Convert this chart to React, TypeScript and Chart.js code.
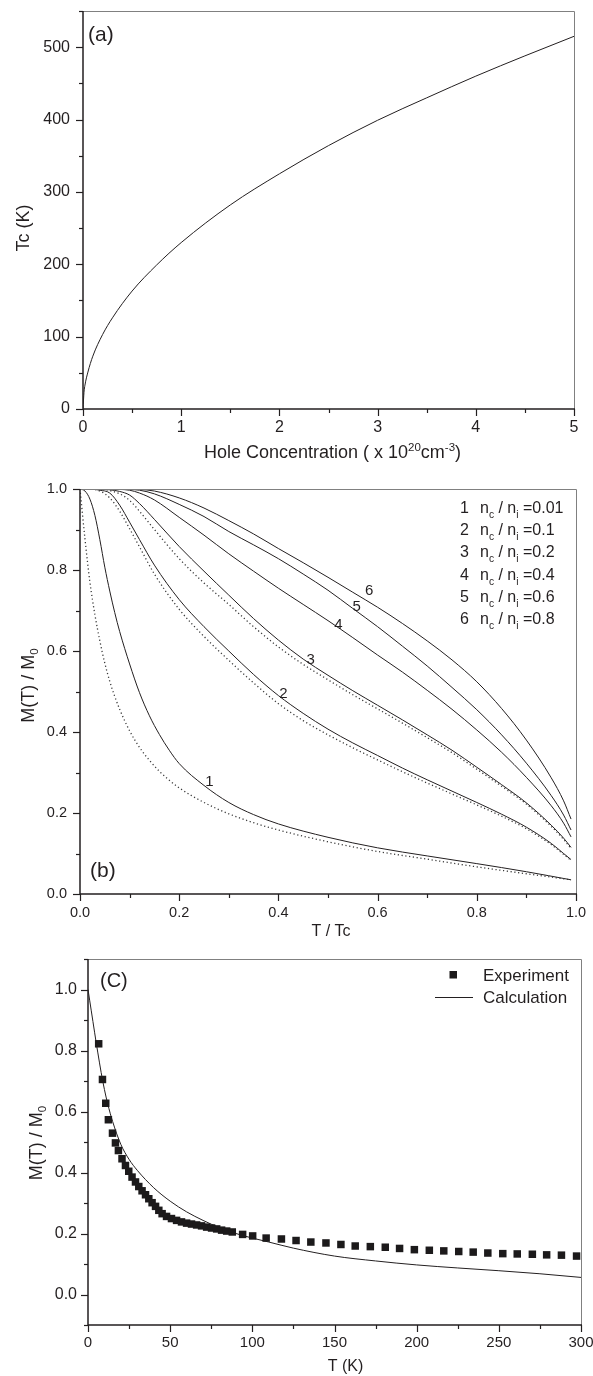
import React, { useEffect, useRef } from "react";
import { Chart, registerables } from "chart.js";

Chart.register(...registerables);

const FONT = "'Liberation Sans', Arial, Helvetica, sans-serif";
const INK = "#231f20";

// ---------------- Panel (a) ----------------
const holeConcentration = [0, 0.01, 0.02, 0.05, 0.1, 0.2, 0.3, 0.5, 0.75, 1, 1.5, 2, 2.5, 3, 3.5, 4, 4.5, 5];
const curieTemperature = [0, 23, 33, 51, 73, 103, 126, 163, 199, 230, 282, 325, 364, 399, 430, 460, 488, 515];
const aXTicks = [0, 1, 2, 3, 4, 5];
const aXMinor = [0.5, 1.5, 2.5, 3.5, 4.5];
const aYTicks = [0, 100, 200, 300, 400, 500];
const aYMinor = [50, 150, 250, 350, 450, 550];

// ---------------- Panel (b) ----------------
const bTLow = [0, 0.01, 0.02, 0.03, 0.04, 0.05, 0.06, 0.07, 0.08, 0.1, 0.12, 0.14, 0.16, 0.18, 0.2, 0.25, 0.3, 0.35, 0.4, 0.5, 0.6, 0.7, 0.8, 0.9, 0.99];
const bCurve1Solid = [1.0, 0.995, 0.975, 0.935, 0.875, 0.807, 0.748, 0.695, 0.648, 0.568, 0.497, 0.44, 0.394, 0.355, 0.322, 0.268, 0.226, 0.196, 0.173, 0.14, 0.114, 0.094, 0.075, 0.055, 0.035];
const bCurve1Dotted = [1.0, 0.877, 0.77, 0.69, 0.625, 0.57, 0.525, 0.488, 0.456, 0.403, 0.362, 0.33, 0.303, 0.281, 0.262, 0.226, 0.198, 0.176, 0.158, 0.129, 0.105, 0.086, 0.067, 0.05, 0.035];
const bT = [0, 0.02, 0.04, 0.06, 0.08, 0.1, 0.12, 0.15, 0.2, 0.25, 0.3, 0.35, 0.4, 0.45, 0.5, 0.55, 0.6, 0.65, 0.7, 0.75, 0.8, 0.85, 0.9, 0.95, 0.975, 0.99];
const bCurve2Solid = [1.0, 1.0, 0.997, 0.99, 0.96, 0.918, 0.875, 0.812, 0.727, 0.66, 0.6, 0.542, 0.49, 0.446, 0.407, 0.373, 0.342, 0.311, 0.282, 0.254, 0.226, 0.197, 0.165, 0.125, 0.1, 0.085];
const bCurve2Dotted = [1.0, 1.0, 0.995, 0.978, 0.945, 0.902, 0.857, 0.79, 0.703, 0.636, 0.577, 0.521, 0.47, 0.428, 0.393, 0.361, 0.331, 0.302, 0.274, 0.247, 0.22, 0.192, 0.161, 0.122, 0.098, 0.083];
const bCurve3Solid = [1, 1, 1, 0.998, 0.994, 0.985, 0.964, 0.925, 0.858, 0.797, 0.738, 0.68, 0.627, 0.58, 0.54, 0.502, 0.466, 0.43, 0.393, 0.355, 0.313, 0.27, 0.225, 0.17, 0.138, 0.115];
const bCurve3Dotted = [1, 1, 1, 0.996, 0.988, 0.972, 0.945, 0.9, 0.828, 0.768, 0.715, 0.66, 0.61, 0.567, 0.529, 0.492, 0.457, 0.422, 0.386, 0.349, 0.308, 0.266, 0.222, 0.167, 0.135, 0.112];
const bCurve4 = [1, 1, 1, 1, 0.999, 0.997, 0.99, 0.973, 0.93, 0.886, 0.84, 0.797, 0.755, 0.715, 0.675, 0.633, 0.59, 0.548, 0.503, 0.456, 0.405, 0.35, 0.288, 0.218, 0.175, 0.141];
const bCurve5 = [1, 1, 1, 1, 1, 0.999, 0.997, 0.988, 0.962, 0.932, 0.895, 0.862, 0.828, 0.79, 0.75, 0.705, 0.66, 0.612, 0.563, 0.51, 0.455, 0.393, 0.323, 0.243, 0.195, 0.158];
const bCurve6 = [1, 1, 1, 1, 1, 1, 0.999, 0.995, 0.978, 0.953, 0.922, 0.889, 0.853, 0.818, 0.782, 0.745, 0.708, 0.668, 0.625, 0.578, 0.524, 0.458, 0.38, 0.287, 0.23, 0.185];
const bCurveLabelText = ["1", "2", "3", "4", "5", "6"];
const bCurveLabelX = [0.261, 0.41, 0.465, 0.521, 0.558, 0.583];
const bCurveLabelY = [0.28, 0.498, 0.582, 0.667, 0.712, 0.751];
const bLegendRatios = ["0.01", "0.1", "0.2", "0.4", "0.6", "0.8"];
const bXTicks = [0, 0.2, 0.4, 0.6, 0.8, 1.0];
const bXMinor = [0.1, 0.3, 0.5, 0.7, 0.9];
const bYTicks = [0, 0.2, 0.4, 0.6, 0.8, 1.0];
const bYMinor = [0.1, 0.3, 0.5, 0.7, 0.9];

// ---------------- Panel (c) ----------------
const expT = [6.5, 8.8, 10.8, 12.4, 14.9, 16.7, 18.5, 20.7, 22.8, 24.8, 26.8, 28.9, 30.9, 32.9, 35.0, 37.0, 39.0, 41.1, 43.1, 45.1, 47.8, 50.8, 53.9, 56.9, 60.0, 63.0, 66.1, 69.1, 72.2, 75.2, 78.3, 81.3, 84.4, 87.8, 94.1, 100.2, 108.4, 117.7, 126.6, 135.6, 144.8, 153.9, 162.6, 171.8, 180.9, 189.6, 198.6, 207.7, 216.5, 225.6, 234.4, 243.3, 252.4, 261.2, 270.4, 279.1, 288.1, 297.3];
const expM = [0.822, 0.705, 0.627, 0.573, 0.529, 0.497, 0.472, 0.445, 0.423, 0.404, 0.385, 0.369, 0.354, 0.34, 0.327, 0.314, 0.301, 0.289, 0.276, 0.265, 0.256, 0.249, 0.243, 0.238, 0.234, 0.231, 0.228, 0.225, 0.221, 0.218, 0.215, 0.211, 0.208, 0.205, 0.197, 0.192, 0.185, 0.182, 0.177, 0.172, 0.169, 0.164, 0.159, 0.157, 0.155, 0.151, 0.147, 0.145, 0.143, 0.141, 0.139, 0.136, 0.134, 0.133, 0.132, 0.13, 0.129, 0.126];
const calcT = [0, 1, 2, 3, 4, 5, 6, 8, 10, 12, 15, 20, 25, 30, 40, 50, 60, 70, 80, 90, 100, 110, 125, 150, 175, 200, 225, 250, 275, 300];
const calcM = [1.0, 0.965, 0.93, 0.895, 0.86, 0.825, 0.792, 0.728, 0.672, 0.625, 0.567, 0.492, 0.443, 0.407, 0.35, 0.306, 0.271, 0.243, 0.219, 0.2, 0.185, 0.172, 0.152, 0.126, 0.11, 0.097, 0.087, 0.078, 0.068, 0.056];
const cXTicks = [0, 50, 100, 150, 200, 250, 300];
const cXMinor = [25, 75, 125, 175, 225, 275];
const cYTicks = [0, 0.2, 0.4, 0.6, 0.8, 1.0];
const cYMinor = [-0.1, 0.1, 0.3, 0.5, 0.7, 0.9, 1.1];

// ---------------- helpers ----------------
type Seg = { t: string; s?: "sub" | "sup" };

function drawRich(ctx: CanvasRenderingContext2D, segs: Seg[], x: number, yMid: number, size: number, align: "left" | "center", subDy = 0.22) {
  const small = size * 0.64;
  let w = 0;
  for (const g of segs) {
    ctx.font = `${g.s ? small : size}px ${FONT}`;
    w += ctx.measureText(g.t).width;
  }
  let cx = align === "center" ? x - w / 2 : x;
  const base = yMid + size * 0.35;
  ctx.textAlign = "left";
  ctx.textBaseline = "alphabetic";
  for (const g of segs) {
    ctx.font = `${g.s ? small : size}px ${FONT}`;
    const dy = g.s === "sup" ? -size * 0.42 : g.s === "sub" ? size * subDy : 0;
    ctx.fillText(g.t, cx, base + dy);
    cx += ctx.measureText(g.t).width;
  }
}

const decorPlugin = {
  id: "decor",
  afterDraw(chart: any, _args: any, o: any) {
    const { ctx, chartArea: a, scales } = chart;
    const xs = scales.x;
    const ys = scales.y;
    ctx.save();
    ctx.strokeStyle = "#808080";
    ctx.lineWidth = 1;
    ctx.beginPath();
    ctx.moveTo(a.left, a.top + 0.5);
    ctx.lineTo(a.right + 0.5, a.top + 0.5);
    ctx.lineTo(a.right + 0.5, a.bottom);
    ctx.stroke();
    ctx.strokeStyle = INK;
    ctx.lineWidth = 1.5;
    ctx.beginPath();
    ctx.moveTo(a.left, a.top);
    ctx.lineTo(a.left, a.bottom);
    ctx.lineTo(a.right + 1, a.bottom);
    ctx.stroke();
    ctx.lineWidth = 1.2;
    const xt = (vals: number[], len: number) => {
      for (const v of vals) {
        const p = Math.round(xs.getPixelForValue(v)) + 0.5;
        ctx.beginPath();
        ctx.moveTo(p, a.bottom);
        ctx.lineTo(p, a.bottom + len);
        ctx.stroke();
      }
    };
    const yt = (vals: number[], len: number) => {
      for (const v of vals) {
        const p = Math.round(ys.getPixelForValue(v)) + 0.5;
        ctx.beginPath();
        ctx.moveTo(a.left - len, p);
        ctx.lineTo(a.left, p);
        ctx.stroke();
      }
    };
    xt(o.xMajor, 7);
    xt(o.xMinor, 4);
    yt(o.yMajor, 7);
    yt(o.yMinor, 4);
    ctx.fillStyle = INK;
    const xT = o.xTitle;
    drawRich(ctx, xT.segs, (a.left + a.right) / 2 + xT.dx, a.bottom + xT.dy, xT.size, "center");
    const yT = o.yTitle;
    ctx.save();
    ctx.translate(yT.x, (a.top + a.bottom) / 2 + yT.dy);
    ctx.rotate(-Math.PI / 2);
    drawRich(ctx, yT.segs, 0, 0, yT.size, "center");
    ctx.restore();
    const pl = o.panel;
    drawRich(ctx, [{ t: pl.text }], a.left + pl.dx, a.top + pl.dy, pl.size, "left");
    if (o.curveLabels) {
      for (const c of o.curveLabels) {
        drawRich(ctx, [{ t: c.text }], xs.getPixelForValue(c.x), ys.getPixelForValue(c.y), o.curveLabelSize, "center");
      }
    }
    if (o.legend) o.legend(ctx, a);
    ctx.restore();
  },
};

function axis(min: number, max: number, ticks: number[], fmt: (v: number) => string, size: number, padding: number, fit: (s: any) => void) {
  return {
    type: "linear",
    min,
    max,
    grid: { display: false, drawTicks: false },
    border: { display: false },
    ticks: {
      padding,
      color: INK,
      font: { size, family: FONT },
      autoSkip: false,
      maxRotation: 0,
      callback: (v: number) => fmt(v),
    },
    afterBuildTicks: (s: any) => {
      s.ticks = ticks.map((v) => ({ value: v }));
    },
    afterFit: (s: any) => {
      fit(s);
      s.paddingTop = 0;
      s.paddingBottom = 0;
      s.paddingLeft = 0;
      s.paddingRight = 0;
    },
  };
}

const pts = (xs: number[], ys: number[]) => xs.map((x, i) => ({ x, y: ys[i] }));

const line = (data: any[], dotted = false) => ({
  data,
  showLine: true,
  borderColor: dotted ? "#3a3a3a" : INK,
  borderWidth: dotted ? 1.3 : 1,
  borderDash: dotted ? [1.2, 2.6] : [],
  pointRadius: 0,
  cubicInterpolationMode: "monotone",
  fill: false,
});

const W = 640;

function buildA(canvas: HTMLCanvasElement) {
  return new Chart(canvas, {
    type: "scatter",
    data: { datasets: [line(pts(holeConcentration, curieTemperature))] },
    options: {
      responsive: false,
      animation: false,
      events: [],
      layout: { padding: { top: 11, right: W - 574, left: 0, bottom: 0 } },
      plugins: {
        legend: { display: false },
        tooltip: { enabled: false },
        decor: {
          xMajor: aXTicks,
          xMinor: aXMinor,
          yMajor: aYTicks,
          yMinor: aYMinor,
          xTitle: {
            segs: [{ t: "Hole Concentration ( x 10" }, { t: "20", s: "sup" }, { t: "cm" }, { t: "-3", s: "sup" }, { t: ")" }],
            size: 18,
            dx: 4,
            dy: 43,
          },
          yTitle: { segs: [{ t: "Tc (K)" }], size: 18, x: 23, dy: 18 },
          panel: { text: "(a)", size: 21, dx: 5, dy: 23 },
        },
      } as any,
      scales: {
        x: axis(0, 5, aXTicks, (v) => String(v), 16, 9, (s: any) => { s.height = 56; }),
        y: axis(0, 550, aYTicks, (v) => String(v), 16, 13, (s: any) => { s.width = 83; }),
      } as any,
    },
    plugins: [decorPlugin as any],
  });
}

function buildB(canvas: HTMLCanvasElement) {
  const labels = bCurveLabelText.map((t, i) => ({ text: t, x: bCurveLabelX[i], y: bCurveLabelY[i] }));
  return new Chart(canvas, {
    type: "scatter",
    data: {
      datasets: [
        line(pts(bTLow, bCurve1Dotted), true),
        line(pts(bT, bCurve2Dotted), true),
        line(pts(bT, bCurve3Dotted), true),
        line(pts(bTLow, bCurve1Solid)),
        line(pts(bT, bCurve2Solid)),
        line(pts(bT, bCurve3Solid)),
        line(pts(bT, bCurve4)),
        line(pts(bT, bCurve5)),
        line(pts(bT, bCurve6)),
      ],
    },
    options: {
      responsive: false,
      animation: false,
      events: [],
      layout: { padding: { top: 24, right: W - 576, left: 0, bottom: 0 } },
      plugins: {
        legend: { display: false },
        tooltip: { enabled: false },
        decor: {
          xMajor: bXTicks,
          xMinor: bXMinor,
          yMajor: bYTicks,
          yMinor: bYMinor,
          xTitle: { segs: [{ t: "T / Tc" }], size: 16, dx: 3, dy: 36 },
          yTitle: { segs: [{ t: "M(T) / M" }, { t: "0", s: "sub" }], size: 18, x: 28, dy: -6 },
          panel: { text: "(b)", size: 21, dx: 10, dy: 381 },
          curveLabels: labels,
          curveLabelSize: 15,
          legend: (ctx: CanvasRenderingContext2D, a: any) => {
            bLegendRatios.forEach((r, i) => {
              const y = a.top + 18 + i * 22.3;
              drawRich(ctx, [{ t: String(i + 1) }], a.right - 116, y, 16, "left");
              drawRich(
                ctx,
                [{ t: "n" }, { t: "c", s: "sub" }, { t: " / n" }, { t: "i", s: "sub" }, { t: " =" + r }],
                a.right - 96,
                y,
                16,
                "left",
                0.32
              );
            });
          },
        },
      } as any,
      scales: {
        x: axis(0, 1, bXTicks, (v) => v.toFixed(1), 14.5, 10, (s: any) => { s.height = 46; }),
        y: axis(0, 1, bYTicks, (v) => v.toFixed(1), 14.5, 13, (s: any) => { s.width = 80; }),
      } as any,
    },
    plugins: [decorPlugin as any],
  });
}

function buildC(canvas: HTMLCanvasElement) {
  return new Chart(canvas, {
    type: "scatter",
    data: {
      datasets: [
        {
          data: pts(expT, expM),
          showLine: false,
          pointStyle: "rect",
          pointRadius: 5.3,
          backgroundColor: "#1c1a1b",
          borderWidth: 0,
        } as any,
        line(pts(calcT, calcM)),
      ],
    },
    options: {
      responsive: false,
      animation: false,
      events: [],
      layout: { padding: { top: 19, right: W - 581, left: 0, bottom: 0 } },
      plugins: {
        legend: { display: false },
        tooltip: { enabled: false },
        decor: {
          xMajor: cXTicks,
          xMinor: cXMinor,
          yMajor: cYTicks,
          yMinor: cYMinor,
          xTitle: { segs: [{ t: "T (K)" }], size: 16, dx: 11, dy: 40 },
          yTitle: { segs: [{ t: "M(T) / M" }, { t: "0", s: "sub" }], size: 18, x: 36, dy: 1 },
          panel: { text: "(C)", size: 20, dx: 12, dy: 21 },
          legend: (ctx: CanvasRenderingContext2D, a: any) => {
            ctx.fillStyle = "#1c1a1b";
            ctx.fillRect(a.right - 131.5, a.top + 12, 7.5, 7.5);
            ctx.fillStyle = INK;
            drawRich(ctx, [{ t: "Experiment" }], a.right - 98, a.top + 16, 17, "left");
            ctx.strokeStyle = INK;
            ctx.lineWidth = 1;
            ctx.beginPath();
            ctx.moveTo(a.right - 146, a.top + 38.5);
            ctx.lineTo(a.right - 108, a.top + 38.5);
            ctx.stroke();
            drawRich(ctx, [{ t: "Calculation" }], a.right - 98, a.top + 38, 17, "left");
          },
        },
      } as any,
      scales: {
        x: axis(0, 300, cXTicks, (v) => String(v), 15, 9, (s: any) => { s.height = 51; }),
        y: axis(-0.1, 1.1, cYTicks, (v) => v.toFixed(1), 16, 11, (s: any) => { s.width = 88; }),
      } as any,
    },
    plugins: [decorPlugin as any],
  });
}

function Panel({ top, height, build }: { top: number; height: number; build: (c: HTMLCanvasElement) => Chart }) {
  const ref = useRef<HTMLCanvasElement>(null);
  useEffect(() => {
    if (!ref.current) return;
    const chart = build(ref.current);
    return () => chart.destroy();
  }, [build]);
  return (
    <canvas
      ref={ref}
      width={W}
      height={height}
      style={{ position: "absolute", left: 0, top, width: W, height, display: "block" }}
    />
  );
}

export default function App() {
  Chart.defaults.font.family = FONT;
  Chart.defaults.color = INK;
  return (
    <div
      style={{
        position: "absolute",
        left: 0,
        top: 0,
        width: 593,
        height: 1376,
        overflow: "hidden",
        background: "#ffffff",
      }}
    >
      <Panel top={0} height={465} build={buildA} />
      <Panel top={465} height={475} build={buildB} />
      <Panel top={940} height={436} build={buildC} />
    </div>
  );
}
